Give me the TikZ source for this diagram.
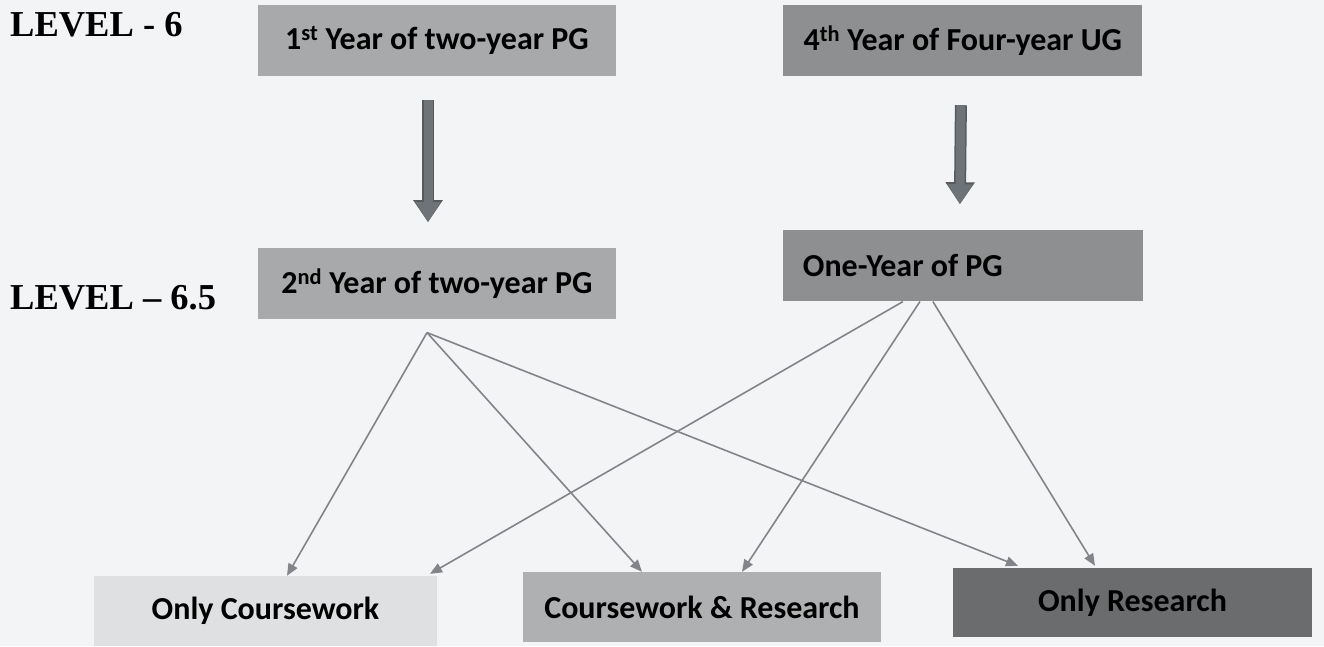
\documentclass[tikz,border=0pt]{standalone}
\usepackage{fontspec}
\setmainfont{Carlito}
\newfontfamily\levelfont{Liberation Serif}
\usetikzlibrary{
  arrows.meta,
  positioning,
}
\definecolor{paper}{RGB}{243, 244, 246}
\definecolor{greymid}{RGB}{168, 169, 171}
\definecolor{greydark}{RGB}{142, 143, 145}
\definecolor{greylight}{RGB}{223, 224, 226}
\definecolor{greysoft}{RGB}{175, 176, 178}
\definecolor{greydeep}{RGB}{107, 108, 110}
\definecolor{linegrey}{RGB}{130, 132, 137}
\definecolor{shaftgrey}{RGB}{110, 115, 120}
\tikzstyle{box} = [
  rectangle,
  minimum height=71pt,
  inner sep=0pt,
  font=\fontsize{32}{38}\selectfont\bfseries,
  text=black,
]
\tikzstyle{level} = [
  anchor=west,
  inner sep=0pt,
  font=\levelfont\bfseries\fontsize{36.5}{44}\selectfont,
]
\tikzstyle{branch} = [
  -{Triangle[length=12pt,width=10pt]},
  line width=1.6pt,
  linegrey,
]
\tikzstyle{blockarrow} = [
  -{Triangle[length=20pt,width=24pt]},
  line width=9pt,
  shaftgrey,
  preaction={draw=black!65, line width=12pt, -{Triangle[length=22pt,width=28pt]}},
]

\begin{document}
\begin{tikzpicture}[x=1pt, y=-1pt, node distance=0pt and 0pt]
        \fill[paper] (0,0) rectangle (1324,646);

        \node[level] (lv6)  at (10,25)  {LEVEL - 6};
        \node[level] (lv65) at (10,298) {LEVEL – 6.5};

        \node[box,minimum width=358pt,fill=greymid]  (pg1) at (437,40.5) {1\textsuperscript{st} Year of two-year PG};
        \node[box,minimum width=359pt,fill=greydark] (ug4) [right=167pt of pg1] {4\textsuperscript{th} Year of Four-year UG};
        \node[box,minimum width=358pt,fill=greymid]  (pg2) [below=172pt of pg1] {2\textsuperscript{nd} Year of two-year PG};
        \node[box,text width=320pt,align=flush left,inner xsep=20pt,fill=greydark] (pg0) [below=154pt of ug4] {One-Year of PG};

        \node[box,minimum width=343pt,minimum height=70pt,fill=greylight] (onlycw) at (265.5,611) {Only Coursework};
        \node[box,minimum width=358pt,minimum height=70pt,fill=greysoft]  (cwres)  at (702,607)   {Coursework \& Research};
        \node[box,minimum width=359pt,minimum height=69pt,fill=greydeep]  (onlyres) at (1132.5,602.5) {Only Research};

        % level 6 to level 6.5
        \draw[blockarrow] ([xshift=-9pt,yshift=-24pt]pg1.south) -- ([xshift=-9pt,yshift=26pt]pg2.north);
        \draw[blockarrow] ([xshift=-2pt,yshift=-29pt]ug4.south) -- ([xshift=-3pt,yshift=26pt]pg0.north);

        % exits
        \coordinate (fork2) at ([xshift=-10pt,yshift=-13pt]pg2.south);
        \draw[branch] (fork2) -- ([xshift=21.5pt]onlycw.north);
        \draw[branch] (fork2) -- ([xshift=-60pt]cwres.north);
        \draw[branch] (fork2) -- ([xshift=-114.5pt,yshift=2pt]onlyres.north);

        \draw[branch] ([xshift=-60pt]pg0.south) -- ([xshift=164.5pt,yshift=2pt]onlycw.north);
        \draw[branch] ([xshift=-43pt]pg0.south) -- ([xshift=40pt]cwres.north);
        \draw[branch] ([xshift=-30pt]pg0.south) -- ([xshift=-37.5pt,yshift=2pt]onlyres.north);
    \end{tikzpicture}
\end{document}
